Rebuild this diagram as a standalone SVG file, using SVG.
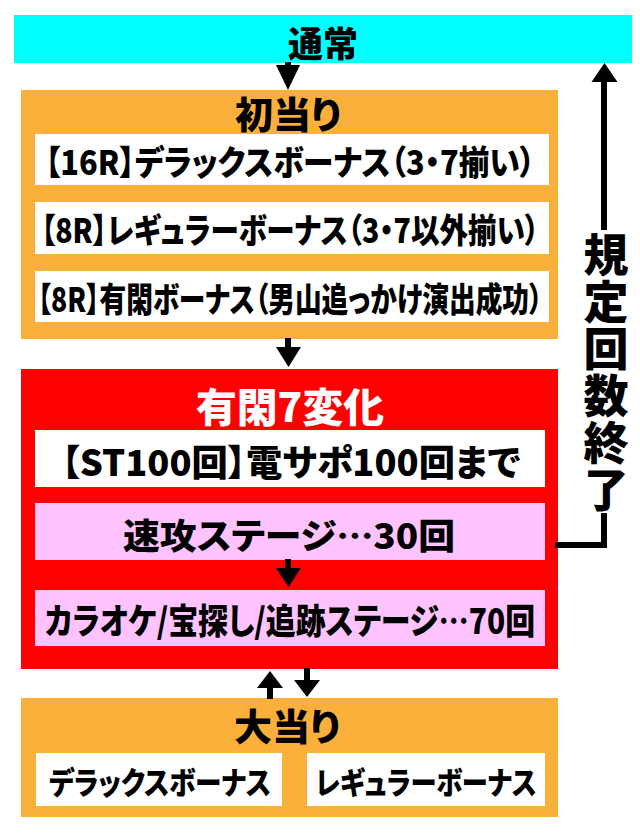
<svg xmlns="http://www.w3.org/2000/svg" width="640" height="837" viewBox="0 0 640 837">
<style>
text{font-family:"Noto Sans CJK JP","Noto Sans CJK SC",sans-serif;font-weight:900;fill:#000;text-anchor:middle;dominant-baseline:central;font-feature-settings:"palt" 1}
.w{fill:#fff}
.org{fill:#FBB03B}
.red{fill:#FF0000}
.box{fill:#fff}
.pink{fill:#FFC4FF}
.ln{stroke:#000;stroke-width:6;fill:none}
.hd{fill:#000}
.vt{writing-mode:vertical-rl;text-orientation:upright}
</style>
<rect width="640" height="837" fill="#fff"/>
<g id="normal">
<rect x="14" y="15" width="618" height="48" fill="#00FFFF"/>
<text x="323" y="41" font-size="35">通常</text>
</g>
<g id="first-hit">
<rect class="org" x="21" y="90" width="537" height="249"/>
<text x="288" y="113" font-size="37" textLength="106" lengthAdjust="spacingAndGlyphs">初当り</text>
<rect class="box" x="35" y="134" width="514" height="51"/>
<text x="290" y="160" font-size="34" textLength="490" lengthAdjust="spacingAndGlyphs">【16R】デラックスボーナス（3・7揃い）</text>
<rect class="box" x="35" y="202" width="514" height="52"/>
<text transform="translate(290,228) scale(0.85,1)" x="0" y="0" font-size="34" textLength="586" lengthAdjust="spacingAndGlyphs">【8R】レギュラーボーナス（3・7以外揃い）</text>
<rect class="box" x="35" y="271" width="514" height="51"/>
<text transform="translate(290,297) scale(0.8,1)" x="0" y="0" font-size="34" textLength="631" lengthAdjust="spacingAndGlyphs">【8R】有閑ボーナス（男山追っかけ演出成功）</text>
</g>
<g id="st">
<rect class="red" x="21" y="369" width="537" height="300"/>
<text class="w" x="290" y="405" font-size="40" textLength="188" lengthAdjust="spacingAndGlyphs">有閑7変化</text>
<rect class="box" x="35" y="430" width="510" height="57"/>
<text x="291" y="460" font-size="36" textLength="459" lengthAdjust="spacingAndGlyphs">【ST100回】電サポ100回まで</text>
<rect class="pink" x="35" y="503" width="510" height="57"/>
<text x="289" y="533" font-size="35" textLength="332" lengthAdjust="spacingAndGlyphs">速攻ステージ…30回</text>
<rect class="pink" x="35" y="590" width="510" height="56"/>
<text transform="translate(290,619) scale(0.88,1)" x="0" y="0" font-size="35" textLength="557" lengthAdjust="spacingAndGlyphs">カラオケ/宝探し/追跡ステージ…70回</text>
</g>
<g id="big-hit">
<rect class="org" x="21" y="698" width="537" height="119"/>
<text x="287" y="725" font-size="37" textLength="106" lengthAdjust="spacingAndGlyphs">大当り</text>
<rect class="box" x="36" y="753" width="246" height="53"/>
<text x="160" y="780" font-size="31" textLength="222" lengthAdjust="spacingAndGlyphs">デラックスボーナス</text>
<rect class="box" x="307" y="753" width="238" height="53"/>
<text x="426" y="780" font-size="31" textLength="221" lengthAdjust="spacingAndGlyphs">レギュラーボーナス</text>
</g>
<g id="connectors">
<line class="ln" x1="288" y1="62" x2="288" y2="67"/>
<polygon class="hd" points="276,65 300,65 288,90"/>
<line class="ln" x1="288" y1="338" x2="288" y2="349"/>
<polygon class="hd" points="276,347 301,347 288.5,367"/>
<line class="ln" x1="288" y1="559" x2="288" y2="570"/>
<polygon class="hd" points="276,568 301,568 288.5,587"/>
<line class="ln" x1="270" y1="686" x2="270" y2="699"/>
<polygon class="hd" points="257,688 283,688 270,671"/>
<line class="ln" x1="307" y1="668" x2="307" y2="682"/>
<polygon class="hd" points="294,680 320,680 307,697"/>
<line class="ln" x1="604" y1="80" x2="604" y2="230"/>
<polygon class="hd" points="591.5,82 617.5,82 604.5,63"/>
<polyline class="ln" points="604,513 604,545 555,545"/>
</g>
<g id="label-return">
<text class="vt" x="606" y="372" font-size="45" textLength="280" lengthAdjust="spacing">規定回数終了</text>
</g>
</svg>
